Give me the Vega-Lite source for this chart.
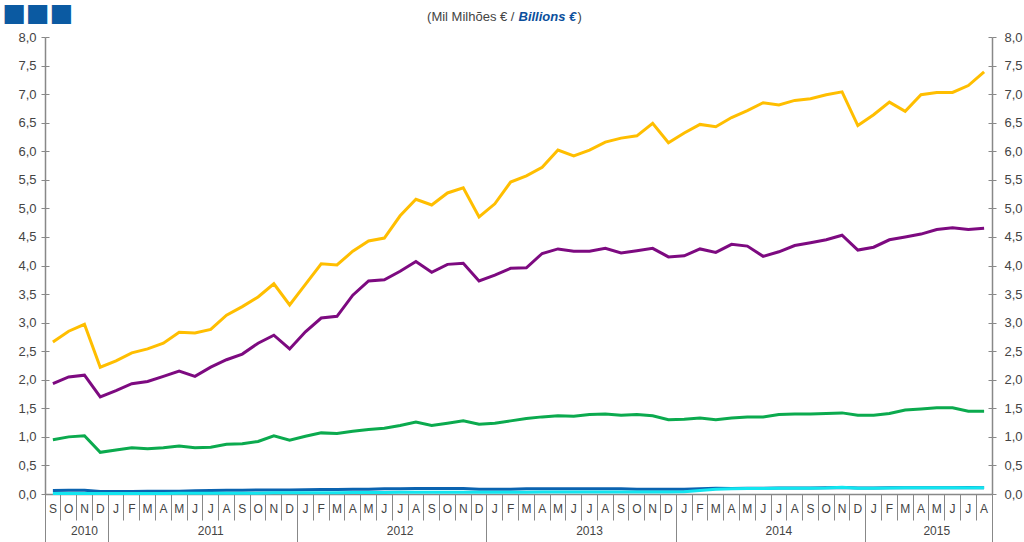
{
  "$schema": "https://vega.github.io/schema/vega-lite/v6.json",
  "width": 947,
  "height": 457,
  "autosize": {"type": "none"},
  "padding": {"left": 45, "top": 37, "right": 32, "bottom": 48},
  "background": "white",
  "config": {
    "view": {"stroke": null},
    "axis": {"labelFont": "Liberation Sans", "labelColor": "#444", "labelFontSize": 13, "domainColor": "#888", "tickColor": "#888", "titleFont": "Liberation Sans", "grid": false, "domainWidth": 1.5, "tickWidth": 1}
  },
  "data": {"values": [
    {"m":"2010-09","s":"y","v":2.66},{"m":"2010-10","s":"y","v":2.85},{"m":"2010-11","s":"y","v":2.97},{"m":"2010-12","s":"y","v":2.22},
    {"m":"2011-01","s":"y","v":2.33},{"m":"2011-02","s":"y","v":2.47},{"m":"2011-03","s":"y","v":2.54},{"m":"2011-04","s":"y","v":2.64},{"m":"2011-05","s":"y","v":2.83},{"m":"2011-06","s":"y","v":2.82},{"m":"2011-07","s":"y","v":2.88},{"m":"2011-08","s":"y","v":3.13},{"m":"2011-09","s":"y","v":3.28},{"m":"2011-10","s":"y","v":3.45},{"m":"2011-11","s":"y","v":3.68},{"m":"2011-12","s":"y","v":3.31},
    {"m":"2012-01","s":"y","v":3.67},{"m":"2012-02","s":"y","v":4.03},{"m":"2012-03","s":"y","v":4.01},{"m":"2012-04","s":"y","v":4.25},{"m":"2012-05","s":"y","v":4.43},{"m":"2012-06","s":"y","v":4.48},{"m":"2012-07","s":"y","v":4.87},{"m":"2012-08","s":"y","v":5.16},{"m":"2012-09","s":"y","v":5.06},{"m":"2012-10","s":"y","v":5.27},{"m":"2012-11","s":"y","v":5.36},{"m":"2012-12","s":"y","v":4.85},
    {"m":"2013-01","s":"y","v":5.08},{"m":"2013-02","s":"y","v":5.46},{"m":"2013-03","s":"y","v":5.57},{"m":"2013-04","s":"y","v":5.72},{"m":"2013-05","s":"y","v":6.02},{"m":"2013-06","s":"y","v":5.92},{"m":"2013-07","s":"y","v":6.02},{"m":"2013-08","s":"y","v":6.16},{"m":"2013-09","s":"y","v":6.23},{"m":"2013-10","s":"y","v":6.27},{"m":"2013-11","s":"y","v":6.49},{"m":"2013-12","s":"y","v":6.15},
    {"m":"2014-01","s":"y","v":6.32},{"m":"2014-02","s":"y","v":6.47},{"m":"2014-03","s":"y","v":6.43},{"m":"2014-04","s":"y","v":6.59},{"m":"2014-05","s":"y","v":6.71},{"m":"2014-06","s":"y","v":6.85},{"m":"2014-07","s":"y","v":6.81},{"m":"2014-08","s":"y","v":6.89},{"m":"2014-09","s":"y","v":6.92},{"m":"2014-10","s":"y","v":6.99},{"m":"2014-11","s":"y","v":7.04},{"m":"2014-12","s":"y","v":6.45},
    {"m":"2015-01","s":"y","v":6.64},{"m":"2015-02","s":"y","v":6.86},{"m":"2015-03","s":"y","v":6.70},{"m":"2015-04","s":"y","v":6.99},{"m":"2015-05","s":"y","v":7.03},{"m":"2015-06","s":"y","v":7.03},{"m":"2015-07","s":"y","v":7.15},{"m":"2015-08","s":"y","v":7.39},

    {"m":"2010-09","s":"p","v":1.93},{"m":"2010-10","s":"p","v":2.05},{"m":"2010-11","s":"p","v":2.08},{"m":"2010-12","s":"p","v":1.70},
    {"m":"2011-01","s":"p","v":1.81},{"m":"2011-02","s":"p","v":1.93},{"m":"2011-03","s":"p","v":1.97},{"m":"2011-04","s":"p","v":2.06},{"m":"2011-05","s":"p","v":2.15},{"m":"2011-06","s":"p","v":2.06},{"m":"2011-07","s":"p","v":2.22},{"m":"2011-08","s":"p","v":2.35},{"m":"2011-09","s":"p","v":2.45},{"m":"2011-10","s":"p","v":2.64},{"m":"2011-11","s":"p","v":2.78},{"m":"2011-12","s":"p","v":2.54},
    {"m":"2012-01","s":"p","v":2.84},{"m":"2012-02","s":"p","v":3.08},{"m":"2012-03","s":"p","v":3.11},{"m":"2012-04","s":"p","v":3.48},{"m":"2012-05","s":"p","v":3.73},{"m":"2012-06","s":"p","v":3.75},{"m":"2012-07","s":"p","v":3.90},{"m":"2012-08","s":"p","v":4.07},{"m":"2012-09","s":"p","v":3.88},{"m":"2012-10","s":"p","v":4.02},{"m":"2012-11","s":"p","v":4.04},{"m":"2012-12","s":"p","v":3.73},
    {"m":"2013-01","s":"p","v":3.83},{"m":"2013-02","s":"p","v":3.95},{"m":"2013-03","s":"p","v":3.96},{"m":"2013-04","s":"p","v":4.21},{"m":"2013-05","s":"p","v":4.29},{"m":"2013-06","s":"p","v":4.25},{"m":"2013-07","s":"p","v":4.25},{"m":"2013-08","s":"p","v":4.30},{"m":"2013-09","s":"p","v":4.22},{"m":"2013-10","s":"p","v":4.26},{"m":"2013-11","s":"p","v":4.30},{"m":"2013-12","s":"p","v":4.15},
    {"m":"2014-01","s":"p","v":4.17},{"m":"2014-02","s":"p","v":4.29},{"m":"2014-03","s":"p","v":4.23},{"m":"2014-04","s":"p","v":4.37},{"m":"2014-05","s":"p","v":4.34},{"m":"2014-06","s":"p","v":4.16},{"m":"2014-07","s":"p","v":4.24},{"m":"2014-08","s":"p","v":4.35},{"m":"2014-09","s":"p","v":4.40},{"m":"2014-10","s":"p","v":4.45},{"m":"2014-11","s":"p","v":4.53},{"m":"2014-12","s":"p","v":4.27},
    {"m":"2015-01","s":"p","v":4.32},{"m":"2015-02","s":"p","v":4.45},{"m":"2015-03","s":"p","v":4.50},{"m":"2015-04","s":"p","v":4.55},{"m":"2015-05","s":"p","v":4.63},{"m":"2015-06","s":"p","v":4.66},{"m":"2015-07","s":"p","v":4.63},{"m":"2015-08","s":"p","v":4.65},

    {"m":"2010-09","s":"g","v":0.95},{"m":"2010-10","s":"g","v":1.00},{"m":"2010-11","s":"g","v":1.02},{"m":"2010-12","s":"g","v":0.73},
    {"m":"2011-01","s":"g","v":0.77},{"m":"2011-02","s":"g","v":0.81},{"m":"2011-03","s":"g","v":0.79},{"m":"2011-04","s":"g","v":0.81},{"m":"2011-05","s":"g","v":0.84},{"m":"2011-06","s":"g","v":0.81},{"m":"2011-07","s":"g","v":0.82},{"m":"2011-08","s":"g","v":0.87},{"m":"2011-09","s":"g","v":0.88},{"m":"2011-10","s":"g","v":0.92},{"m":"2011-11","s":"g","v":1.02},{"m":"2011-12","s":"g","v":0.94},
    {"m":"2012-01","s":"g","v":1.01},{"m":"2012-02","s":"g","v":1.07},{"m":"2012-03","s":"g","v":1.06},{"m":"2012-04","s":"g","v":1.10},{"m":"2012-05","s":"g","v":1.13},{"m":"2012-06","s":"g","v":1.15},{"m":"2012-07","s":"g","v":1.20},{"m":"2012-08","s":"g","v":1.26},{"m":"2012-09","s":"g","v":1.20},{"m":"2012-10","s":"g","v":1.24},{"m":"2012-11","s":"g","v":1.28},{"m":"2012-12","s":"g","v":1.22},
    {"m":"2013-01","s":"g","v":1.24},{"m":"2013-02","s":"g","v":1.28},{"m":"2013-03","s":"g","v":1.32},{"m":"2013-04","s":"g","v":1.35},{"m":"2013-05","s":"g","v":1.37},{"m":"2013-06","s":"g","v":1.36},{"m":"2013-07","s":"g","v":1.39},{"m":"2013-08","s":"g","v":1.40},{"m":"2013-09","s":"g","v":1.38},{"m":"2013-10","s":"g","v":1.39},{"m":"2013-11","s":"g","v":1.37},{"m":"2013-12","s":"g","v":1.30},
    {"m":"2014-01","s":"g","v":1.31},{"m":"2014-02","s":"g","v":1.33},{"m":"2014-03","s":"g","v":1.30},{"m":"2014-04","s":"g","v":1.33},{"m":"2014-05","s":"g","v":1.35},{"m":"2014-06","s":"g","v":1.35},{"m":"2014-07","s":"g","v":1.39},{"m":"2014-08","s":"g","v":1.40},{"m":"2014-09","s":"g","v":1.40},{"m":"2014-10","s":"g","v":1.41},{"m":"2014-11","s":"g","v":1.42},{"m":"2014-12","s":"g","v":1.38},
    {"m":"2015-01","s":"g","v":1.38},{"m":"2015-02","s":"g","v":1.41},{"m":"2015-03","s":"g","v":1.47},{"m":"2015-04","s":"g","v":1.49},{"m":"2015-05","s":"g","v":1.51},{"m":"2015-06","s":"g","v":1.51},{"m":"2015-07","s":"g","v":1.45},{"m":"2015-08","s":"g","v":1.45},

    {"m":"2010-09","s":"b","v":0.06},{"m":"2010-10","s":"b","v":0.065},{"m":"2010-11","s":"b","v":0.065},{"m":"2010-12","s":"b","v":0.045},
    {"m":"2011-01","s":"b","v":0.045},{"m":"2011-02","s":"b","v":0.045},{"m":"2011-03","s":"b","v":0.05},{"m":"2011-04","s":"b","v":0.05},{"m":"2011-05","s":"b","v":0.05},{"m":"2011-06","s":"b","v":0.055},{"m":"2011-07","s":"b","v":0.06},{"m":"2011-08","s":"b","v":0.065},{"m":"2011-09","s":"b","v":0.065},{"m":"2011-10","s":"b","v":0.07},{"m":"2011-11","s":"b","v":0.07},{"m":"2011-12","s":"b","v":0.07},
    {"m":"2012-01","s":"b","v":0.075},{"m":"2012-02","s":"b","v":0.08},{"m":"2012-03","s":"b","v":0.08},{"m":"2012-04","s":"b","v":0.085},{"m":"2012-05","s":"b","v":0.085},{"m":"2012-06","s":"b","v":0.09},{"m":"2012-07","s":"b","v":0.09},{"m":"2012-08","s":"b","v":0.095},{"m":"2012-09","s":"b","v":0.095},{"m":"2012-10","s":"b","v":0.095},{"m":"2012-11","s":"b","v":0.095},{"m":"2012-12","s":"b","v":0.085},
    {"m":"2013-01","s":"b","v":0.085},{"m":"2013-02","s":"b","v":0.085},{"m":"2013-03","s":"b","v":0.09},{"m":"2013-04","s":"b","v":0.09},{"m":"2013-05","s":"b","v":0.09},{"m":"2013-06","s":"b","v":0.09},{"m":"2013-07","s":"b","v":0.09},{"m":"2013-08","s":"b","v":0.09},{"m":"2013-09","s":"b","v":0.09},{"m":"2013-10","s":"b","v":0.085},{"m":"2013-11","s":"b","v":0.085},{"m":"2013-12","s":"b","v":0.085},
    {"m":"2014-01","s":"b","v":0.085},{"m":"2014-02","s":"b","v":0.09},{"m":"2014-03","s":"b","v":0.1},{"m":"2014-04","s":"b","v":0.095},{"m":"2014-05","s":"b","v":0.1},{"m":"2014-06","s":"b","v":0.1},{"m":"2014-07","s":"b","v":0.105},{"m":"2014-08","s":"b","v":0.105},{"m":"2014-09","s":"b","v":0.105},{"m":"2014-10","s":"b","v":0.11},{"m":"2014-11","s":"b","v":0.115},{"m":"2014-12","s":"b","v":0.105},
    {"m":"2015-01","s":"b","v":0.105},{"m":"2015-02","s":"b","v":0.11},{"m":"2015-03","s":"b","v":0.11},{"m":"2015-04","s":"b","v":0.11},{"m":"2015-05","s":"b","v":0.11},{"m":"2015-06","s":"b","v":0.11},{"m":"2015-07","s":"b","v":0.115},{"m":"2015-08","s":"b","v":0.11},

    {"m":"2010-09","s":"c","v":0.01},{"m":"2010-10","s":"c","v":0.01},{"m":"2010-11","s":"c","v":0.01},{"m":"2010-12","s":"c","v":0.01},
    {"m":"2011-01","s":"c","v":0.01},{"m":"2011-02","s":"c","v":0.01},{"m":"2011-03","s":"c","v":0.01},{"m":"2011-04","s":"c","v":0.01},{"m":"2011-05","s":"c","v":0.012},{"m":"2011-06","s":"c","v":0.012},{"m":"2011-07","s":"c","v":0.015},{"m":"2011-08","s":"c","v":0.015},{"m":"2011-09","s":"c","v":0.015},{"m":"2011-10","s":"c","v":0.015},{"m":"2011-11","s":"c","v":0.02},{"m":"2011-12","s":"c","v":0.02},
    {"m":"2012-01","s":"c","v":0.02},{"m":"2012-02","s":"c","v":0.02},{"m":"2012-03","s":"c","v":0.02},{"m":"2012-04","s":"c","v":0.025},{"m":"2012-05","s":"c","v":0.025},{"m":"2012-06","s":"c","v":0.025},{"m":"2012-07","s":"c","v":0.03},{"m":"2012-08","s":"c","v":0.03},{"m":"2012-09","s":"c","v":0.03},{"m":"2012-10","s":"c","v":0.03},{"m":"2012-11","s":"c","v":0.03},{"m":"2012-12","s":"c","v":0.03},
    {"m":"2013-01","s":"c","v":0.03},{"m":"2013-02","s":"c","v":0.03},{"m":"2013-03","s":"c","v":0.03},{"m":"2013-04","s":"c","v":0.035},{"m":"2013-05","s":"c","v":0.035},{"m":"2013-06","s":"c","v":0.035},{"m":"2013-07","s":"c","v":0.035},{"m":"2013-08","s":"c","v":0.035},{"m":"2013-09","s":"c","v":0.035},{"m":"2013-10","s":"c","v":0.035},{"m":"2013-11","s":"c","v":0.035},{"m":"2013-12","s":"c","v":0.035},
    {"m":"2014-01","s":"c","v":0.04},{"m":"2014-02","s":"c","v":0.06},{"m":"2014-03","s":"c","v":0.085},{"m":"2014-04","s":"c","v":0.09},{"m":"2014-05","s":"c","v":0.095},{"m":"2014-06","s":"c","v":0.095},{"m":"2014-07","s":"c","v":0.1},{"m":"2014-08","s":"c","v":0.1},{"m":"2014-09","s":"c","v":0.1},{"m":"2014-10","s":"c","v":0.105},{"m":"2014-11","s":"c","v":0.12},{"m":"2014-12","s":"c","v":0.1},
    {"m":"2015-01","s":"c","v":0.1},{"m":"2015-02","s":"c","v":0.105},{"m":"2015-03","s":"c","v":0.11},{"m":"2015-04","s":"c","v":0.11},{"m":"2015-05","s":"c","v":0.11},{"m":"2015-06","s":"c","v":0.11},{"m":"2015-07","s":"c","v":0.11},{"m":"2015-08","s":"c","v":0.11}
  ]},
  "resolve": {"axis": {"x": "independent", "y": "independent"}},
  "layer": [
    {
      "mark": {"type": "line", "strokeWidth": 3},
      "encoding": {
        "x": {"field": "m", "type": "ordinal", "scale": {"type": "band", "paddingInner": 0, "paddingOuter": 0},
          "axis": {"orient": "bottom", "ticks": false, "domain": true, "labelPadding": 9, "labelAngle": 0, "labelFontSize": 12, "labelOverlap": false, "labelBaseline": "top", "labelExpr": "substring('JFMAMJJASOND', toNumber(substring(datum.value,5,7))-1, toNumber(substring(datum.value,5,7)))", "title": null}},
        "y": {"field": "v", "type": "quantitative", "scale": {"domain": [0, 8], "nice": false, "zero": true},
          "axis": {"orient": "left", "values": [0,0.5,1,1.5,2,2.5,3,3.5,4,4.5,5,5.5,6,6.5,7,7.5,8], "tickSize": 4, "labelPadding": 5, "labelExpr": "replace(format(datum.value,'.1f'),'.',',')",
            "title": "(Mil Milhões € /", "titleX": 469, "titleY": -17, "titleAngle": 0, "titleAlign": "right", "titleBaseline": "alphabetic", "titleFontWeight": "normal", "titleFontSize": 13, "titleColor": "#444"}},
        "color": {"field": "s", "type": "nominal", "scale": {"domain": ["y", "p", "g", "b", "c"], "range": ["#FFBE00", "#7D0A80", "#0BAA4E", "#0B63B0", "#12E6F0"]}, "legend": null}
      }
    },
    {
      "mark": {"type": "line", "opacity": 0},
      "encoding": {
        "x": {"field": "m", "type": "ordinal", "axis": {"orient": "bottom", "bandPosition": 0, "tickSize": 26, "labels": false, "domain": false, "title": null}},
        "y": {"field": "v", "type": "quantitative",
          "axis": {"orient": "left", "values": [0,0.5,1,1.5,2,2.5,3,3.5,4,4.5,5,5.5,6,6.5,7,7.5,8], "tickSize": -4, "labels": false, "domain": false,
            "title": "Billions €", "titleX": 473, "titleY": -17, "titleAngle": 0, "titleAlign": "left", "titleBaseline": "alphabetic", "titleFontWeight": "bold", "titleFontStyle": "italic", "titleFontSize": 13, "titleColor": "#0B4F9C"}}
      }
    },
    {
      "mark": {"type": "line", "opacity": 0},
      "encoding": {
        "x": {"field": "m", "type": "ordinal", "axis": {"orient": "bottom", "bandPosition": 0, "values": ["2010-09", "2011-01", "2012-01", "2013-01", "2014-01", "2015-01"], "tickSize": 48, "labels": false, "domain": false, "title": null}},
        "y": {"field": "v", "type": "quantitative",
          "axis": {"orient": "right", "values": [0,0.5,1,1.5,2,2.5,3,3.5,4,4.5,5,5.5,6,6.5,7,7.5,8], "tickSize": 4, "labelPadding": 8, "labelExpr": "replace(format(datum.value,'.1f'),'.',',')",
            "title": ")", "titleX": -415, "titleY": -17, "titleAngle": 0, "titleAlign": "left", "titleBaseline": "alphabetic", "titleFontWeight": "normal", "titleFontSize": 13, "titleColor": "#444"}}
      }
    },
    {
      "mark": {"type": "line", "opacity": 0},
      "encoding": {
        "x": {"field": "m", "type": "ordinal", "axis": {"orient": "bottom", "bandPosition": 1, "values": ["2015-08"], "tickSize": 48, "labels": false, "domain": false, "title": null}},
        "y": {"field": "v", "type": "quantitative",
          "axis": {"orient": "right", "values": [0,0.5,1,1.5,2,2.5,3,3.5,4,4.5,5,5.5,6,6.5,7,7.5,8], "tickSize": -4, "labels": false, "domain": false, "title": null}}
      }
    },
    {
      "mark": {"type": "line", "opacity": 0},
      "encoding": {
        "x": {"field": "m", "type": "ordinal", "axis": {"orient": "bottom", "bandPosition": 0, "values": ["2010-11", "2011-07", "2012-07", "2013-07", "2014-07", "2015-05"], "ticks": false, "domain": false, "labelPadding": 31, "labelAngle": 0, "labelFontSize": 12, "labelBaseline": "top", "labelExpr": "substring(datum.value,0,4)", "title": null}},
        "y": {"field": "v", "type": "quantitative",
          "axis": {"orient": "left", "ticks": false, "labels": false, "domain": false,
            "title": "■■■", "titleX": -43, "titleY": -37, "titleAngle": 0, "titleAlign": "left", "titleBaseline": "top", "titleFont": "DejaVu Sans", "titleFontWeight": "normal", "titleFontSize": 25, "titleColor": "#0B5AA2"}}
      }
    }
  ]
}
